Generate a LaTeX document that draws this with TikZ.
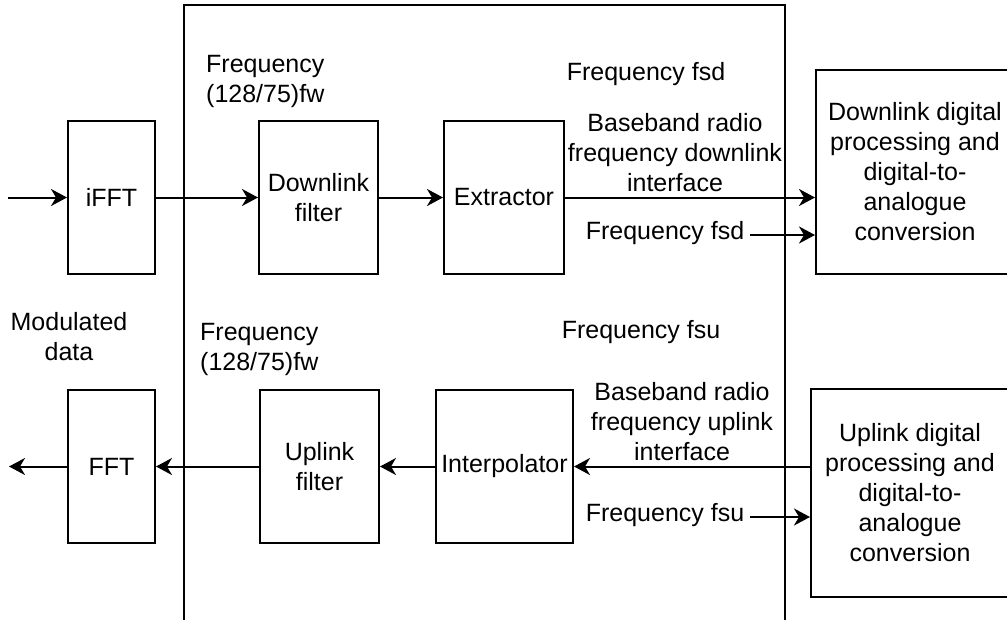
\documentclass[tikz,border=0pt]{standalone}
\usepackage{fontspec}
\setmainfont{Liberation Sans}
\usetikzlibrary{arrows.meta}
\begin{document}
\begin{tikzpicture}[x=1pt,y=-1pt,
  every node/.style={font=\fontsize{25pt}{30pt}\selectfont},
  blk/.style={draw,line width=2pt,minimum width=#1,minimum height=153pt,inner sep=0pt,align=center},
  bigblk/.style={draw,line width=2pt,minimum width=198pt,minimum height=#1,inner sep=0pt,align=center},
  lbl/.style={inner sep=0pt,align=center},
  conn/.style={line width=2pt,-{Stealth[length=16pt,width=17pt,inset=5pt]}},
  frame/.style={line width=2pt}]
\useasboundingbox (0,0) rectangle (1007,619);
% frame
\coordinate (fbl) at (184,621);
\coordinate (ftl) at (184,5);
\coordinate (ftr) at (785,5);
\coordinate (fbr) at (785,621);
\draw[frame] (fbl) -- (ftl) -- (ftr) -- (fbr);
% downlink row
\node[blk=87pt] (ifft) at (111.5,197.5) {iFFT};
\node[blk=119pt] (dlf) at (318.5,197.5) {Downlink\\filter};
\node[blk=120pt] (ext) at (504,197.5) {Extractor};
\node[bigblk=204pt] (dlb) at (915,172) {Downlink digital\\processing and\\digital-to-\\analogue\\conversion};
% uplink row
\node[blk=87pt] (fft) at (111.5,466.5) {FFT};
\node[blk=119pt] (ulf) at (319.5,466.5) {Uplink\\filter};
\node[blk=137pt] (intp) at (504.5,466.5) {Interpolator};
\node[bigblk=208pt] (ulb) at (910,493) {Uplink digital\\processing and\\digital-to-\\analogue\\conversion};
% labels
\node[lbl,align=left,anchor=west] (f1) at (206,81) {Frequency\\(128/75)fw};
\node[lbl] (fsd1) at (646,74) {Frequency fsd};
\node[lbl] (bbd) at (675,153) {Baseband radio\\frequency downlink\\interface};
\node[lbl] (fsd2) at (665,233) {Frequency fsd};
\node[lbl] (mod) at (69,337) {Modulated\\data};
\node[lbl,align=left,anchor=west] (f2) at (200,349) {Frequency\\(128/75)fw};
\node[lbl] (fsu1) at (641,332) {Frequency fsu};
\node[lbl] (bbu) at (682,422) {Baseband radio\\frequency uplink\\interface};
\node[lbl] (fsu2) at (665,515) {Frequency fsu};
% connectors
\coordinate (din) at (8,197.5);
\coordinate (uout) at (9,466.5);
\draw[conn] (din) -- (ifft.west);
\draw[conn] (ifft.east) -- (dlf.west);
\draw[conn] (dlf.east) -- (ext.west);
\draw[conn] (ext.east) -- (ext.east -| dlb.west);
\draw[conn] ([xshift=6pt,yshift=-2pt]fsd2.east) -- ([yshift=-2pt]fsd2.east -| dlb.west);
\draw[conn] (intp.east -| ulb.west) -- (intp.east);
\draw[conn] (intp.west) -- (ulf.east);
\draw[conn] (ulf.west) -- (fft.east);
\draw[conn] (fft.west) -- (uout);
\draw[conn] ([xshift=6pt,yshift=-2pt]fsu2.east) -- ([yshift=-2pt]fsu2.east -| ulb.west);
\end{tikzpicture}
\end{document}
